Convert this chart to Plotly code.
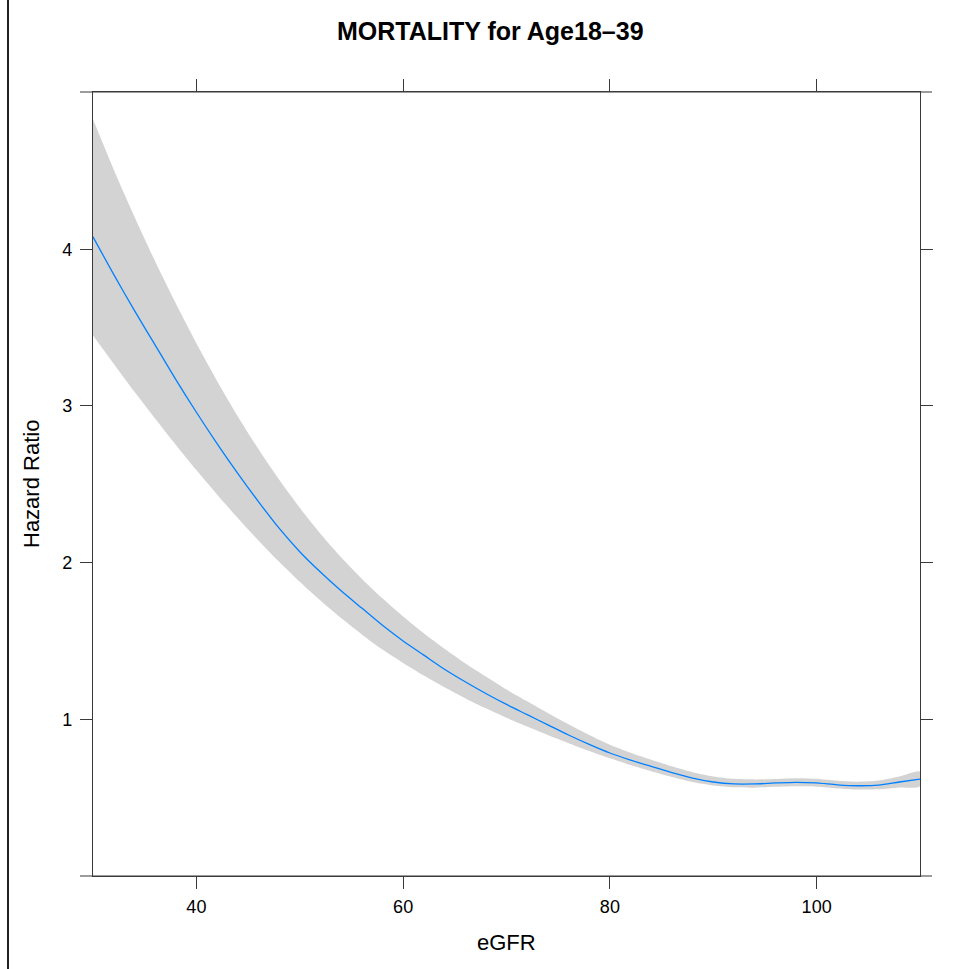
import plotly.graph_objects as go

# eGFR grid and values
egfr = [30, 32, 34, 36, 38, 40, 42, 44, 46, 48, 50, 52, 54, 56, 58, 60, 62, 64, 66, 68,
        70, 72, 74, 76, 78, 80, 82, 84, 86, 88, 90, 92, 94, 96, 98, 100, 102, 104, 106, 108, 110]
hr = [4.08, 3.84, 3.61, 3.39, 3.17, 2.96, 2.76, 2.57, 2.39, 2.22, 2.07, 1.94, 1.82, 1.71, 1.60,
      1.50, 1.41, 1.32, 1.24, 1.165, 1.095, 1.03, 0.965, 0.90, 0.84, 0.785, 0.74, 0.70, 0.66,
      0.625, 0.60, 0.588, 0.588, 0.594, 0.598, 0.594, 0.582, 0.576, 0.58, 0.60, 0.618]
upper = [4.83, 4.51, 4.21, 3.925, 3.655, 3.40, 3.16, 2.935, 2.725, 2.53, 2.35, 2.185, 2.035,
         1.898, 1.772, 1.656, 1.549, 1.45, 1.358, 1.273, 1.19, 1.115, 1.04, 0.968, 0.90, 0.838,
         0.787, 0.742, 0.70, 0.662, 0.635, 0.62, 0.616, 0.619, 0.624, 0.62, 0.608, 0.602,
         0.609, 0.635, 0.666]
lower = [3.45, 3.27, 3.092, 2.92, 2.753, 2.591, 2.435, 2.285, 2.142, 2.006, 1.878, 1.758, 1.646,
         1.542, 1.445, 1.36, 1.28, 1.205, 1.135, 1.07, 1.01, 0.954, 0.90, 0.848, 0.798, 0.751,
         0.708, 0.668, 0.632, 0.60, 0.578, 0.566, 0.564, 0.569, 0.573, 0.57, 0.559, 0.552,
         0.553, 0.565, 0.573]

x_ticks = [40, 60, 80, 100]
y_ticks = [1, 2, 3, 4]

title_text = "<b>MORTALITY for Age18\u201339</b>"
x_title = "eGFR"
y_title = "Hazard Ratio"

FONT = "Liberation Sans, Arial, Helvetica, sans-serif"
AX = "#3a3a3a"

fig = go.Figure()
fig.add_trace(go.Scatter(
    x=egfr + egfr[::-1], y=upper + lower[::-1],
    fill="toself", fillcolor="#d3d3d3", line=dict(width=0, shape="spline", smoothing=0.8),
    mode="lines", hoverinfo="skip", showlegend=False))
fig.add_trace(go.Scatter(
    x=egfr, y=hr, mode="lines",
    line=dict(color="#0080ff", width=1.3, shape="spline", smoothing=0.8),
    showlegend=False))

W, H = 966, 969
L, R, T, B = 93, 46, 92, 93
pw, ph = W - L - R, H - T - B

axis_common = dict(showgrid=False, zeroline=False, showline=True, linecolor=AX, linewidth=1.2,
                   ticks="outside", ticklen=12, tickwidth=1.2, tickcolor=AX, mirror="ticks",
                   tickfont=dict(family=FONT, size=18, color="#000"))

fig.update_layout(
    width=W, height=H,
    margin=dict(l=L, r=R, t=T, b=B),
    paper_bgcolor="white", plot_bgcolor="white",
    xaxis=dict(range=[30, 110], tickvals=x_ticks, ticklabelstandoff=2, **axis_common),
    yaxis=dict(range=[0, 5.004], tickvals=y_ticks, ticklabelstandoff=4, **axis_common),
    font=dict(family=FONT),
)


def px_x(p):
    return (p - L) / pw


def px_y(p):
    return (H - B - p) / ph


shapes = []
for yy in (0, 1):
    shapes.append(dict(type="line", xref="paper", yref="paper", x0=px_x(80), x1=px_x(932),
                       y0=yy, y1=yy, line=dict(color=AX, width=1.2)))
# stray vertical rule at the far left of the page
shapes.append(dict(type="line", xref="paper", yref="paper",
                   x0=px_x(8), x1=px_x(8), y0=px_y(H), y1=px_y(0),
                   line=dict(color="#222", width=2)))
fig.update_layout(shapes=shapes)

annotations = [
    dict(text=title_text, xref="paper", yref="paper", x=px_x(490), y=px_y(31),
         showarrow=False, xanchor="center", yanchor="middle",
         font=dict(family=FONT, size=25, color="#000")),
    dict(text=x_title, xref="paper", yref="paper", x=0.5, y=px_y(942),
         showarrow=False, xanchor="center", yanchor="middle",
         font=dict(family=FONT, size=22, color="#000")),
    dict(text=y_title, xref="paper", yref="paper", x=px_x(31), y=0.5, textangle=-90,
         showarrow=False, xanchor="center", yanchor="middle",
         font=dict(family=FONT, size=22, color="#000")),
]
fig.update_layout(annotations=annotations)

fig.write_html("out.html", config={"displayModeBar": False},
               post_script="document.body.style.margin='0';document.body.style.padding='0';")
